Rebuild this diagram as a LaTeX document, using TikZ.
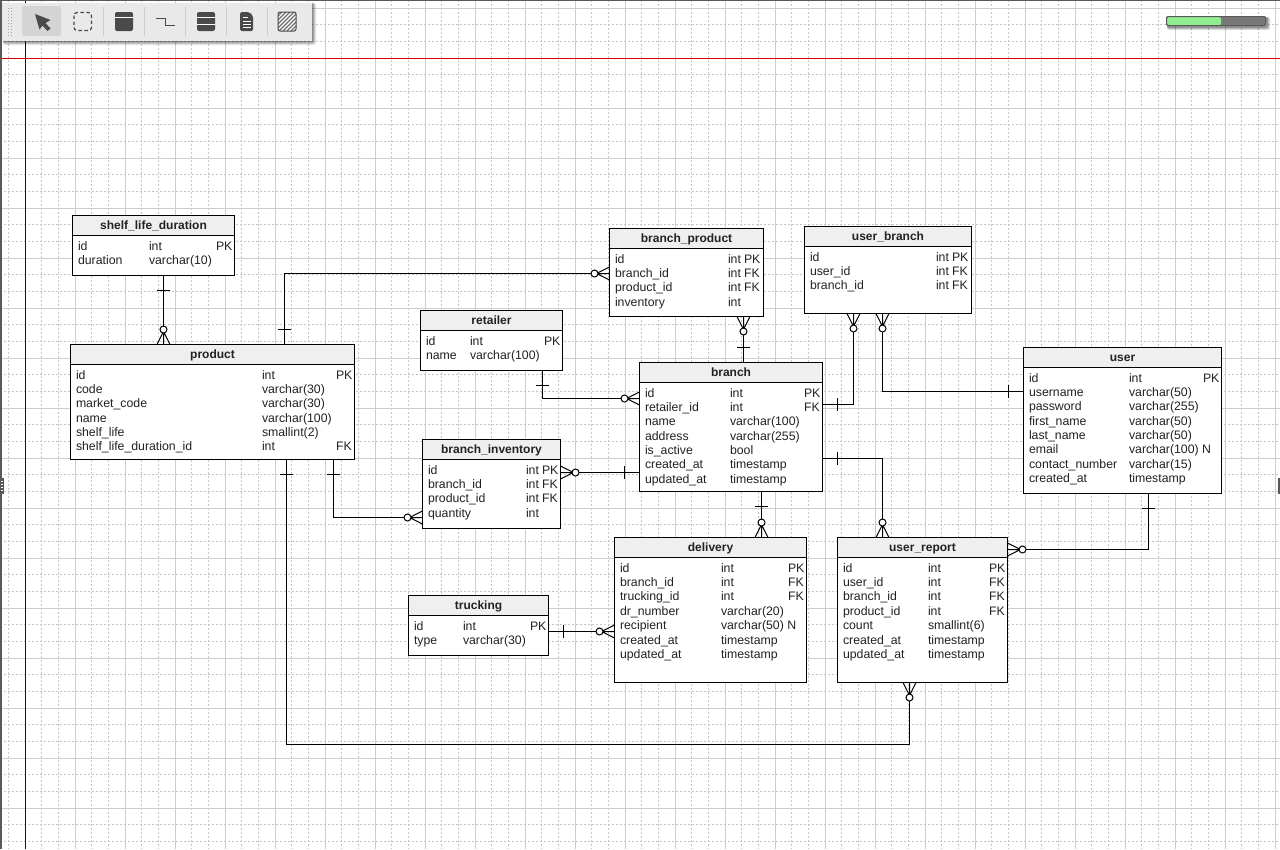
\documentclass[tikz,border=0pt]{standalone}
\usepackage{fontspec}
\setmainfont{Liberation Sans}
\usetikzlibrary{calc}
\definecolor{gridmaj}{HTML}{CDCDCD}
\definecolor{gridmin}{HTML}{C4C4C4}
\definecolor{headfill}{HTML}{EFEFEF}
\definecolor{inktxt}{HTML}{222222}
\definecolor{barfill}{HTML}{E9E9E9}
\definecolor{iconfill}{HTML}{4A4A4A}
\definecolor{redline}{HTML}{D80000}
\definecolor{siderule}{HTML}{5A5A5A}
\definecolor{progress}{HTML}{90EE90}
\tikzset{
  x=1pt,y=-1pt,
  ertable/.style={draw=black,line width=1pt,fill=white,inner sep=0pt,outer sep=0pt,anchor=north west},
  erhead/.style={draw=black,line width=1pt,fill=headfill,inner sep=0pt,outer sep=0pt,anchor=north west,font=\fontsize{12}{14}\selectfont\bfseries,text=inktxt,text height=8.5pt,text depth=1.5pt},
  cell/.style={inner sep=0pt,outer sep=0pt,anchor=base west,font=\fontsize{12.3}{14}\selectfont,text=inktxt},
  conn/.style={draw=black,line width=1pt},
  maj/.style={draw=gridmaj,line width=1pt},
  minr/.style={draw=gridmin,line width=1pt,dash pattern=on 1.5pt off 2.5pt},
  icon/.style={fill=iconfill,draw=none},
}
\newcounter{cellno}
\newcommand{\ertable}[6]{%
  \node[ertable,minimum width=#4pt-#2pt,minimum height=#5pt-#3pt] (#1) at (#2,#3) {};
  \node[erhead,minimum width=#4pt-#2pt,minimum height=20pt] (#1head) at (#2,#3) {#6};
}
\newcommand{\cols}[3]{\def\cola{#1}\def\colb{#2}\def\colc{#3}}
\newcommand{\onecell}[2]{\stepcounter{cellno}\node[cell] (cell\thecellno) at (#1) {#2};}
\newcommand{\errow}[4]{%
  \onecell{\cola,#1+4.5}{#2}%
  \onecell{\colb,#1+4.5}{#3}%
  \onecell{\colc,#1+4.5}{#4}%
}
\newcommand{\crow}[3]{%
  \begin{scope}[shift={(#1)},rotate=#2]
    \draw[conn] (13,0) -- (0,6.5) (13,0) -- (0,0) (13,0) -- (0,-6.5);
    \draw[conn,fill=white] (15,0) circle[radius=3.5];
  \end{scope}
}
\newcommand{\tickh}[1]{\draw[conn] ($(#1)+(-6.5,0)$) -- ($(#1)+(6.5,0)$);}
\newcommand{\tickv}[1]{\draw[conn] ($(#1)+(0,-6.5)$) -- ($(#1)+(0,6.5)$);}
\begin{document}
\begin{tikzpicture}
\useasboundingbox (0,0) rectangle (1280,849);
\fill[white] (0,0) rectangle (1280,849);
% grid
\draw[minr] (8.5,0) -- (8.5,849);
\foreach \k in {0,...,25} {
  \pgfmathsetmacro\gx{25+50*\k}
  \pgfmathsetmacro\gxa{floor(\gx+16.67)+0.5}
  \pgfmathsetmacro\gxb{floor(\gx+33.33)+0.5}
  \draw[minr] (\gxa,0) -- (\gxa,849);
  \draw[minr] (\gxb,0) -- (\gxb,849);
  \ifnum\k>0 \draw[maj] (\gx+0.5,0) -- (\gx+0.5,849);\fi
}
\foreach \k in {0,...,16} {
  \pgfmathsetmacro\gy{8+50*\k}
  \pgfmathsetmacro\gya{floor(\gy+16.67)+0.5}
  \pgfmathsetmacro\gyb{floor(\gy+33.67)+0.5}
  \draw[minr] (0,\gya) -- (1280,\gya);
  \draw[minr] (0,\gyb) -- (1280,\gyb);
  \draw[maj] (0,\gy+0.5) -- (1280,\gy+0.5);
}
\draw[draw=black!75!red,line width=1pt] (25.5,0) -- (25.5,849);
\draw[draw=redline,line width=1pt] (0,58.5) -- (1280,58.5);
\fill[siderule] (0,0) rectangle (1280,1);
\fill[siderule] (0,0) rectangle (2,849);
\fill[siderule] (0,478) rectangle (4,494);
\fill[siderule] (1278,478) rectangle (1280,494);
\foreach \dy in {481,484,487,490} \fill[white] (1,\dy) rectangle (2.5,\dy+1);

% tables
\ertable{shelf}{72.5}{215.5}{234.5}{275.5}{shelf\_life\_duration}
\cols{78}{149}{216}
\errow{245.5}{id}{int}{PK}
\errow{259.5}{duration}{varchar(10)}{}

\ertable{product}{70.5}{344.5}{354.5}{459.5}{product}
\cols{76}{262}{336}
\errow{375}{id}{int}{PK}
\errow{389}{code}{varchar(30)}{}
\errow{403}{market\_code}{varchar(30)}{}
\errow{418}{name}{varchar(100)}{}
\errow{432}{shelf\_life}{smallint(2)}{}
\errow{446}{shelf\_life\_duration\_id}{int}{FK}

\ertable{bprod}{609.5}{228.5}{763.5}{316.5}{branch\_product}
\cols{615}{728}{744}
\errow{259}{id}{int}{PK}
\errow{273}{branch\_id}{int}{FK}
\errow{287}{product\_id}{int}{FK}
\errow{302}{inventory}{int}{}

\ertable{ubranch}{804.5}{226.5}{971.5}{313.5}{user\_branch}
\cols{810}{936}{952}
\errow{257}{id}{int}{PK}
\errow{271}{user\_id}{int}{FK}
\errow{285}{branch\_id}{int}{FK}

\ertable{retailer}{420.5}{310.5}{562.5}{370.5}{retailer}
\cols{426}{470}{544}
\errow{341}{id}{int}{PK}
\errow{355}{name}{varchar(100)}{}

\ertable{branch}{639.5}{362.5}{822.5}{491.5}{branch}
\cols{645}{730}{804}
\errow{393}{id}{int}{PK}
\errow{407}{retailer\_id}{int}{FK}
\errow{421}{name}{varchar(100)}{}
\errow{436}{address}{varchar(255)}{}
\errow{450}{is\_active}{bool}{}
\errow{464}{created\_at}{timestamp}{}
\errow{479}{updated\_at}{timestamp}{}

\ertable{user}{1023.5}{347.5}{1221.5}{493.5}{user}
\cols{1029}{1129}{1203}
\errow{378}{id}{int}{PK}
\errow{392}{username}{varchar(50)}{}
\errow{406}{password}{varchar(255)}{}
\errow{421}{first\_name}{varchar(50)}{}
\errow{435}{last\_name}{varchar(50)}{}
\errow{449}{email}{varchar(100) N}{}
\errow{464}{contact\_number}{varchar(15)}{}
\errow{478}{created\_at}{timestamp}{}

\ertable{binv}{422.5}{439.5}{560.5}{528.5}{branch\_inventory}
\cols{428}{526}{542}
\errow{470}{id}{int}{PK}
\errow{484}{branch\_id}{int}{FK}
\errow{498}{product\_id}{int}{FK}
\errow{513}{quantity}{int}{}

\ertable{delivery}{614.5}{537.5}{806.5}{682.5}{delivery}
\cols{620}{721}{788}
\errow{568}{id}{int}{PK}
\errow{582}{branch\_id}{int}{FK}
\errow{596}{trucking\_id}{int}{FK}
\errow{611}{dr\_number}{varchar(20)}{}
\errow{625}{recipient}{varchar(50) N}{}
\errow{640}{created\_at}{timestamp}{}
\errow{654}{updated\_at}{timestamp}{}

\ertable{ureport}{837.5}{537.5}{1007.5}{682.5}{user\_report}
\cols{843}{928}{989}
\errow{568}{id}{int}{PK}
\errow{582}{user\_id}{int}{FK}
\errow{596}{branch\_id}{int}{FK}
\errow{611}{product\_id}{int}{FK}
\errow{625}{count}{smallint(6)}{}
\errow{640}{created\_at}{timestamp}{}
\errow{654}{updated\_at}{timestamp}{}

\ertable{trucking}{408.5}{595.5}{548.5}{655.5}{trucking}
\cols{414}{463}{530}
\errow{626}{id}{int}{PK}
\errow{640}{type}{varchar(30)}{}

% connectors
\coordinate (a1) at (163.5,290.5);
\draw[conn] (shelf.south -| a1) -- (product.north -| a1);
\tickh{a1}
\crow{product.north -| a1}{90}

\coordinate (a2) at (284.5,273.5);
\coordinate (a2t) at (284.5,329);
\draw[conn] (product.north -| a2) -- (a2) -- (bprod.west |- a2);
\tickh{a2t}
\crow{bprod.west |- a2}{180}

\coordinate (a3) at (542.5,398.5);
\coordinate (a3t) at (542.5,385);
\draw[conn] (retailer.south -| a3) -- (a3) -- (branch.west |- a3);
\tickh{a3t}
\crow{branch.west |- a3}{180}

\coordinate (a4) at (743.5,347.5);
\draw[conn] (branch.north -| a4) -- (bprod.south -| a4);
\tickh{a4}
\crow{bprod.south -| a4}{270}

\coordinate (a5) at (853.5,404.5);
\coordinate (a5t) at (837.5,404.5);
\draw[conn] (branch.east |- a5) -- (a5) -- (ubranch.south -| a5);
\tickv{a5t}
\crow{ubranch.south -| a5}{270}

\coordinate (a6) at (882.5,391.5);
\coordinate (a6t) at (1008.5,391.5);
\draw[conn] (user.west |- a6) -- (a6) -- (ubranch.south -| a6);
\tickv{a6t}
\crow{ubranch.south -| a6}{270}

\coordinate (a7) at (624.5,472.5);
\draw[conn] (binv.east |- a7) -- (branch.west |- a7);
\tickv{a7}
\crow{binv.east |- a7}{0}

\coordinate (a8) at (333,517.5);
\coordinate (a8t) at (333,474.5);
\draw[conn] (product.south -| a8) -- (a8) -- (binv.west |- a8);
\tickh{a8t}
\crow{binv.west |- a8}{180}

\coordinate (a9) at (286.5,744.5);
\coordinate (a9b) at (909.5,744.5);
\coordinate (a9t) at (286.5,474.5);
\draw[conn] (product.south -| a9) -- (a9) -- (a9b) -- (ureport.south -| a9b);
\tickh{a9t}
\crow{ureport.south -| a9b}{270}

\coordinate (a10) at (761.5,506.5);
\draw[conn] (branch.south -| a10) -- (delivery.north -| a10);
\tickh{a10}
\crow{delivery.north -| a10}{90}

\coordinate (a11) at (882.5,458.5);
\coordinate (a11t) at (837.5,458.5);
\draw[conn] (branch.east |- a11) -- (a11) -- (ureport.north -| a11);
\tickv{a11t}
\crow{ureport.north -| a11}{90}

\coordinate (a12) at (1148.5,549.5);
\coordinate (a12t) at (1148.5,508.5);
\draw[conn] (user.south -| a12) -- (a12) -- (ureport.east |- a12);
\tickh{a12t}
\crow{ureport.east |- a12}{0}

\coordinate (a13) at (563.5,631.5);
\draw[conn] (trucking.east |- a13) -- (delivery.west |- a13);
\tickv{a13}
\crow{delivery.west |- a13}{180}

% toolbar
\foreach \o/\a in {5/0.10,4/0.12,3/0.14,2/0.18} \fill[black,opacity=\a,rounded corners=2pt] (3,3) rectangle (312+\o-1,41+\o-1);
\fill[barfill] (2,3) rectangle (312,41);
\foreach \dy in {8,11,14,17,20,23,26,29,32,35} {\fill[gray!70] (8,\dy) rectangle (9,\dy+1);\fill[gray!70] (11,\dy) rectangle (12,\dy+1);}
\fill[gridmaj!85!white,rounded corners=1.5pt] (22,6) rectangle (61,36);
\fill[draw=none,fill=iconfill] (35,14) -- (50.5,20) -- (45.5,23) -- (50.5,28.5) -- (47.5,31) -- (42.5,25.5) -- (39.5,29.5) -- cycle;
\draw[iconfill,line width=1.3pt,dash pattern=on 3.5pt off 2.5pt,rounded corners=3pt] (74,12.5) rectangle (91.5,30.5);
\fill[icon,rounded corners=2pt] (115,12) rectangle (133,31);
\draw[white,line width=1pt] (115,17.5) -- (133,17.5);
\draw[iconfill,line width=1pt] (156,18.5) -- (165,18.5) -- (165,25.5) -- (175,25.5);
\fill[icon,rounded corners=2pt] (197,12) rectangle (215,31);
\draw[white,line width=1pt] (197,17.5) -- (215,17.5) (197,24.5) -- (215,24.5);
\fill[icon,rounded corners=1.5pt] (240,12) -- (249,12) -- (253,16) -- (253,31) -- (240,31) -- cycle;
\draw[white,line width=0.9pt] (243,17.5) -- (248,17.5) (243,21.5) -- (251,21.5) (243,24.5) -- (251,24.5) (243,27.5) -- (251,27.5);
\fill[white,rounded corners=2pt] (278,12) rectangle (296,31);
\begin{scope}
  \clip[rounded corners=2pt] (278,12) rectangle (296,31);
  \foreach \h in {-20,-16,-12,-8,-4,0,4,8,12,16} \draw[iconfill!80!white,line width=1.1pt] (278+\h,32) -- (278+\h+21,11);
\end{scope}
\draw[iconfill,line width=1pt,rounded corners=2pt] (278,12) rectangle (296,31);
\foreach \sx in {103,144,185,226,267} \draw[gridmaj,line width=0.8pt] (\sx,7) -- (\sx,36);

% progress bar
\foreach \o/\a in {4/0.12,3/0.16,2/0.2} \fill[black,opacity=\a,rounded corners=2pt] (1167,17) rectangle (1266+\o,26+\o);
\fill[gray!95!black,rounded corners=2pt] (1166,16) rectangle (1266,26);
\fill[progress,rounded corners=2pt] (1167,17) rectangle (1221,25.5);
\draw[siderule,line width=1pt,rounded corners=2pt] (1166.5,16.5) rectangle (1265.5,25.5);
\end{tikzpicture}
\end{document}
